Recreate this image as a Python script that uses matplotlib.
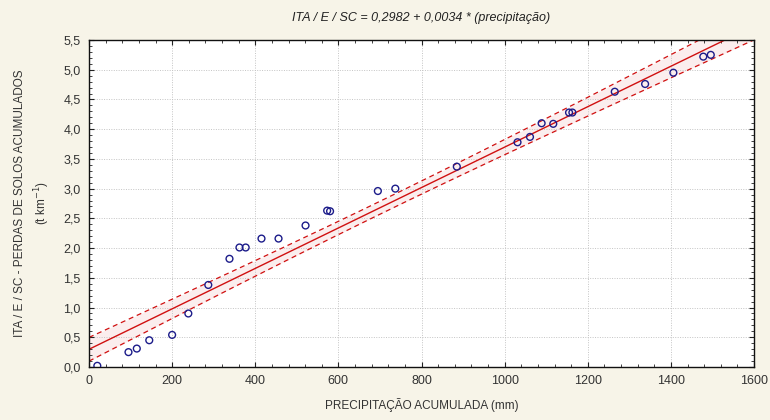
import numpy as np
import matplotlib
matplotlib.use("Agg")
import matplotlib.pyplot as plt
from matplotlib.ticker import MultipleLocator, FuncFormatter

# ---- data ----
precip = [20, 95, 115, 145, 200, 239, 287, 338, 362, 377, 415, 456, 521, 573, 580,
          695, 737, 885, 1031, 1061, 1089, 1117, 1155, 1163, 1265, 1338, 1406, 1478, 1496]
perdas = [0.02, 0.25, 0.31, 0.45, 0.54, 0.90, 1.38, 1.82, 2.01, 2.01, 2.16, 2.16, 2.38, 2.63, 2.62,
          2.96, 3.00, 3.37, 3.78, 3.87, 4.10, 4.09, 4.28, 4.28, 4.63, 4.76, 4.95, 5.22, 5.25]
intercept = 0.2982
slope = 0.0034
title = "ITA / E / SC = 0,2982 + 0,0034 * (precipitação)"
xlabel = "PRECIPITAÇÃO ACUMULADA (mm)"
ylabel = "ITA / E / SC - PERDAS DE SOLOS ACUMULADOS\n(t km$^{-1}$)"

plt.rcParams['font.family'] = ['Liberation Sans', 'DejaVu Sans']

x = np.array(precip, float)
y = np.array(perdas, float)
n = len(x)
res = y - (intercept + slope * x)
s = np.sqrt(np.sum(res ** 2) / (n - 2))
xbar = x.mean()
sxx = np.sum((x - xbar) ** 2)
t = 2.05

xx = np.linspace(0, 1600, 400)
yy = intercept + slope * xx
half = t * s * np.sqrt(1.0 / n + (xx - xbar) ** 2 / sxx)

bg = '#f7f4e8'
fig = plt.figure(figsize=(7.7, 4.2), dpi=100, facecolor=bg)
ax = fig.add_axes([89 / 770, 1 - 367 / 420, (754 - 89) / 770, (367 - 40) / 420])
ax.set_facecolor('white')

ax.fill_between(xx, yy - half, yy + half, color='#f4c8c8', alpha=0.3, lw=0)
ax.plot(xx, yy, color='#d01010', lw=1.0)
ax.plot(xx, yy + half, color='#d01010', lw=0.9, ls=(0, (4, 3)))
ax.plot(xx, yy - half, color='#d01010', lw=0.9, ls=(0, (4, 3)))
ax.scatter(x, y, s=24, facecolors='none', edgecolors='#1c1c8a', linewidths=1.0, zorder=5)

ax.set_xlim(0, 1600)
ax.set_ylim(0, 5.5)
ax.xaxis.set_major_locator(MultipleLocator(200))
ax.xaxis.set_minor_locator(MultipleLocator(40))
ax.yaxis.set_major_locator(MultipleLocator(0.5))
ax.yaxis.set_minor_locator(MultipleLocator(0.1))
ax.yaxis.set_major_formatter(FuncFormatter(lambda v, p: f"{v:.1f}".replace('.', ',')))
ax.xaxis.set_major_formatter(FuncFormatter(lambda v, p: f"{v:.0f}"))
ax.tick_params(which='both', direction='in', top=True, right=True, colors='#222222',
               labelsize=9, labelcolor='#333333')
ax.tick_params(which='major', length=3.5, width=0.8, pad=6)
ax.tick_params(which='minor', length=2, width=0.6)
ax.grid(True, which='major', color='#c4c4c4', ls=(0, (1, 1.5)), lw=0.7)
for sp in ax.spines.values():
    sp.set_color('#111111')
    sp.set_linewidth(1.0)

ax.set_title(title, fontsize=9, style='italic', color='#222222', pad=14)
ax.set_xlabel(xlabel, fontsize=8.5, color='#333333', labelpad=8)
ax.set_ylabel(ylabel, fontsize=8.5, color='#333333', labelpad=8, linespacing=1.5)

fig.savefig('out.png', dpi=100, facecolor=bg)
